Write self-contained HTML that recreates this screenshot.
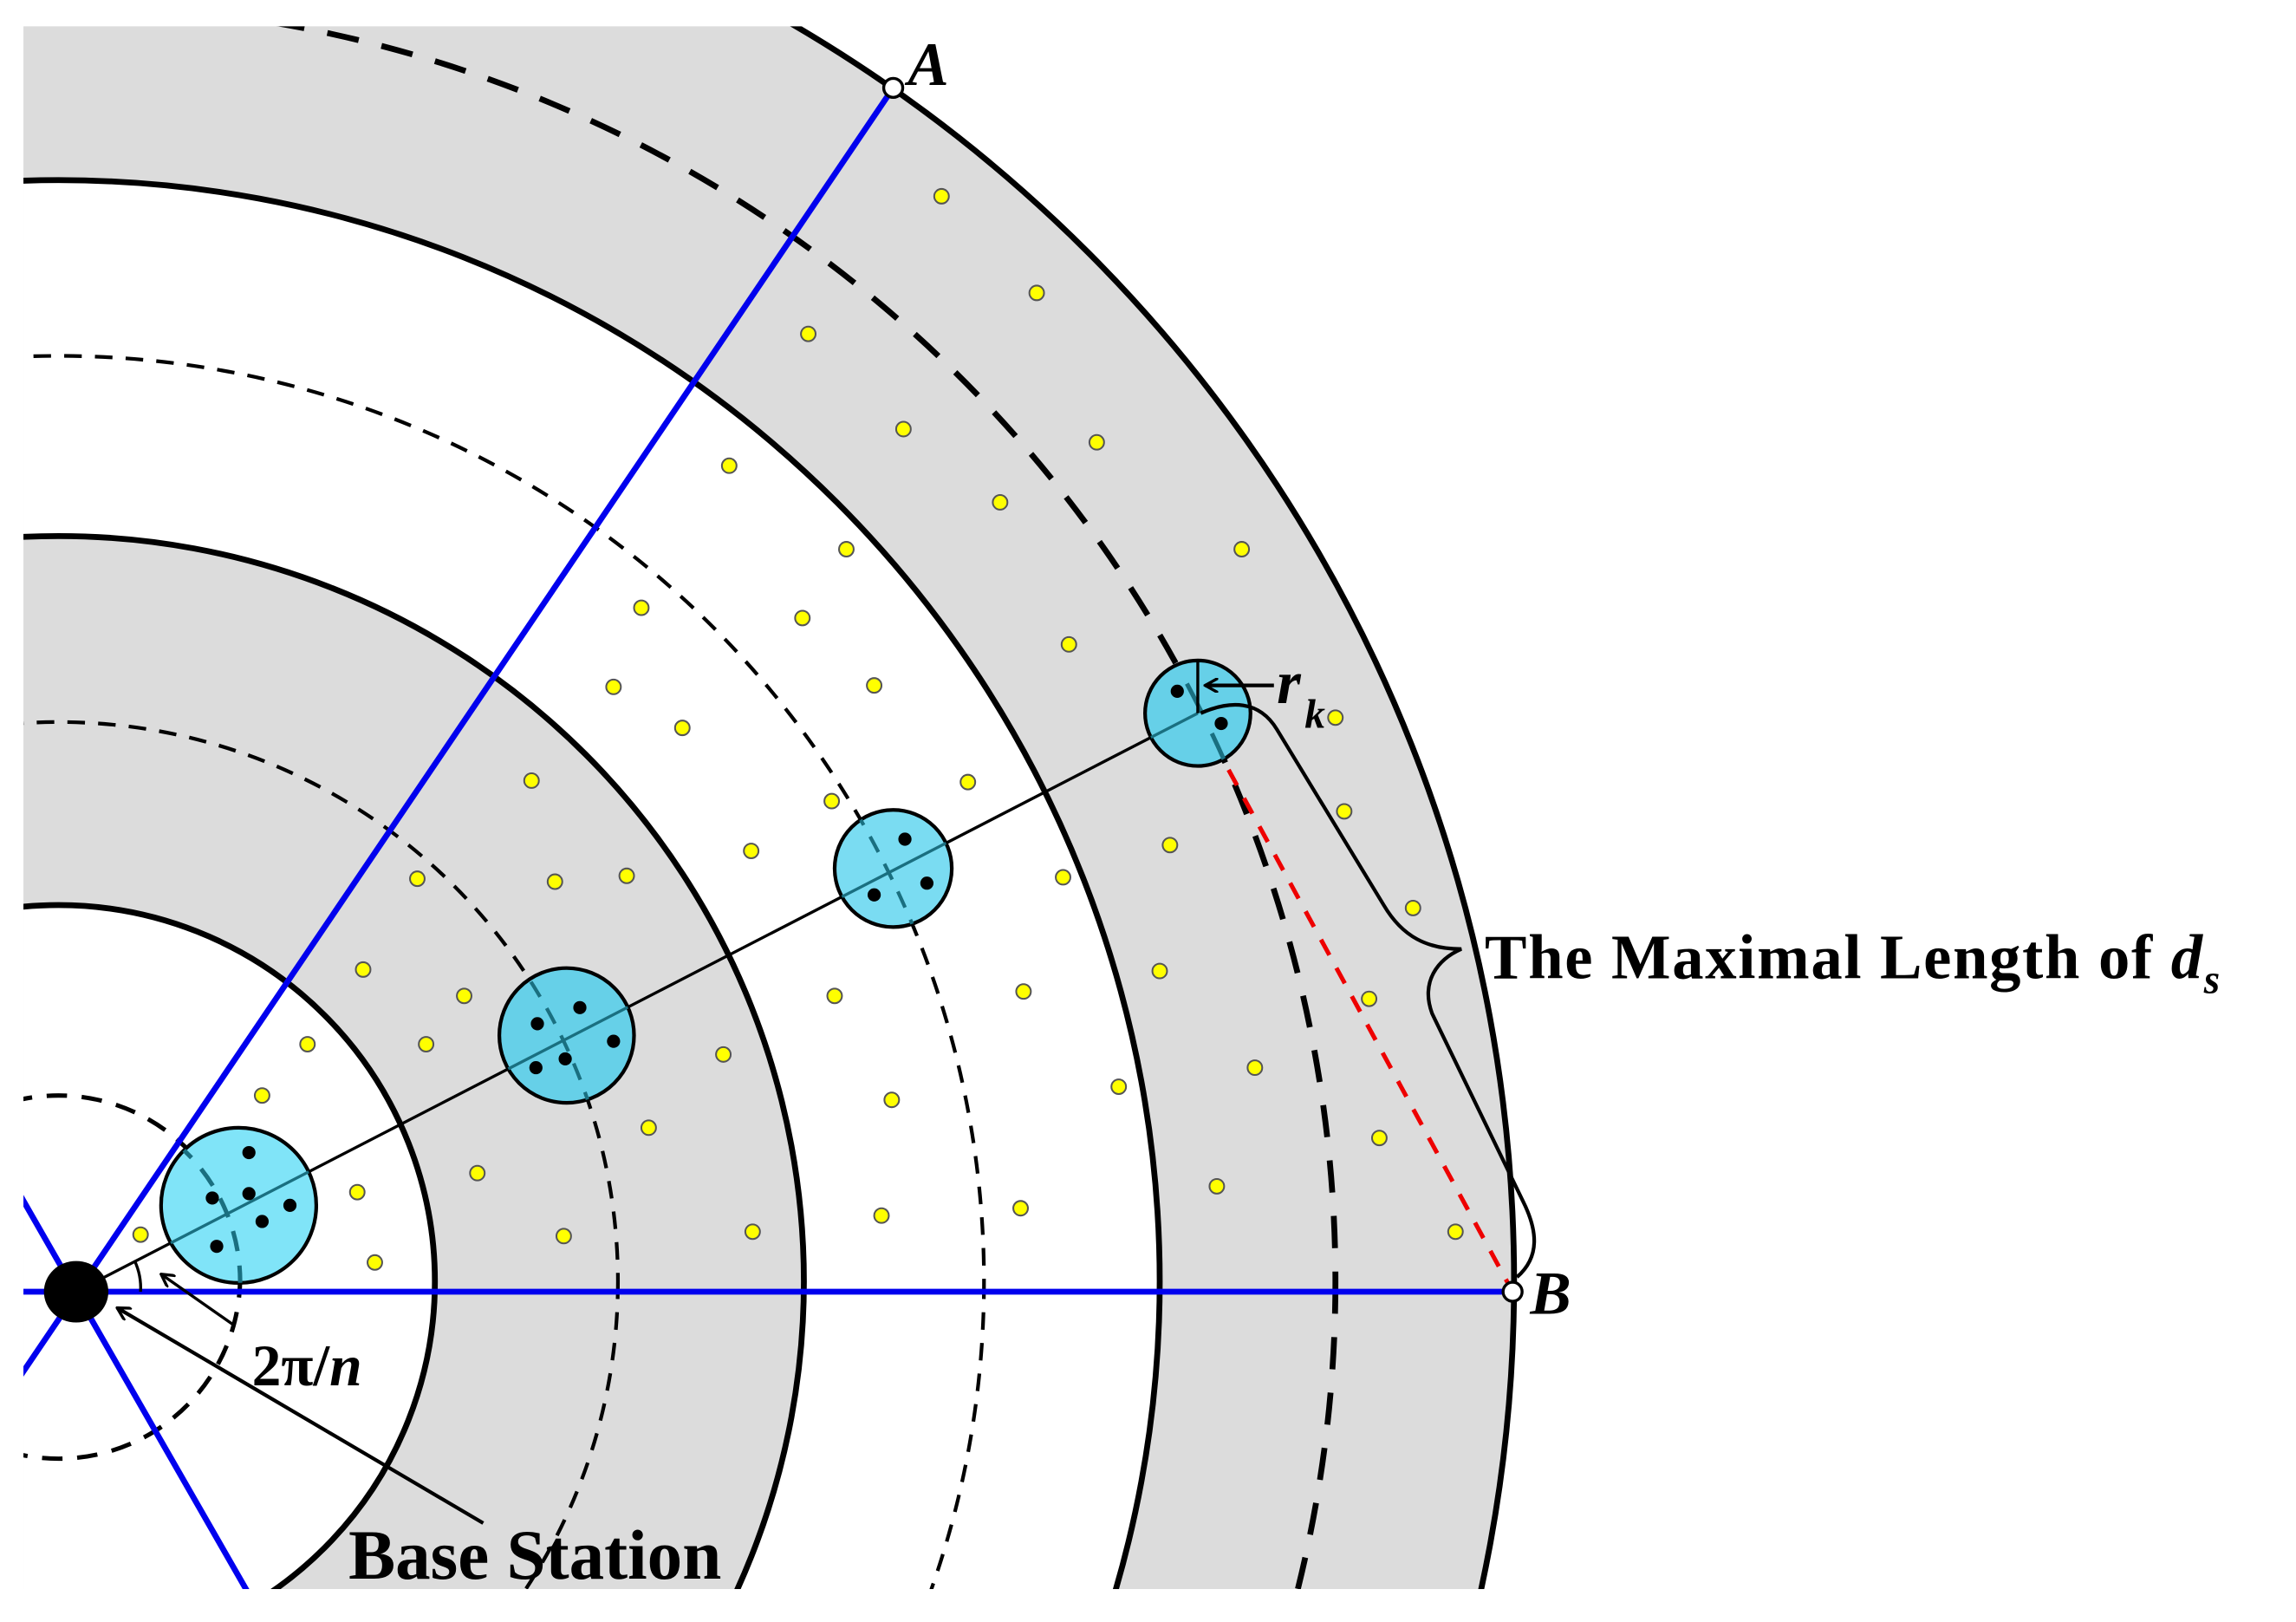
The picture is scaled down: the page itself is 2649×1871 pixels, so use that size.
<!DOCTYPE html>
<html><head><meta charset="utf-8"><style>html,body{margin:0;padding:0;background:#fff;overflow:hidden;width:2649px;height:1871px}svg{display:block}</style></head><body>
<svg width="2649" height="1871" viewBox="0 0 1568 1107.5" preserveAspectRatio="none" xmlns="http://www.w3.org/2000/svg">
<defs>
<clipPath id="c"><rect x="16" y="18" width="1560" height="1067"/></clipPath>
<clipPath id="cl">
<circle cx="163" cy="823" r="53"/><circle cx="387" cy="707" r="46"/><circle cx="610" cy="593" r="40"/><circle cx="818" cy="487" r="36"/>
</clipPath>
<marker id="ar" markerWidth="10" markerHeight="10" refX="9" refY="5" orient="auto" markerUnits="userSpaceOnUse"><path d="M0,0 L9,5 L0,10" fill="none" stroke="#000" stroke-width="2"/></marker>
</defs>
<rect width="1568" height="1108" fill="#fff"/>
<g clip-path="url(#c)">
<circle cx="40" cy="875" r="994" fill="#dcdcdc"/>
<circle cx="40" cy="875" r="752" fill="#fff"/>
<circle cx="40" cy="875" r="509" fill="#dcdcdc"/>
<circle cx="40" cy="875" r="257" fill="#fff"/>
<g fill="none" stroke="#000">
<circle cx="40" cy="875" r="994" stroke-width="4"/>
<circle cx="40" cy="875" r="752" stroke-width="4"/>
<circle cx="40" cy="875" r="509" stroke-width="4"/>
<circle cx="40" cy="875" r="257" stroke-width="4"/>
<circle cx="40" cy="872" r="124" stroke-width="3" stroke-dasharray="14,10"/>
<circle cx="40" cy="875" r="382" stroke-width="2.5" stroke-dasharray="12,9"/>
<circle cx="40" cy="875" r="632" stroke-width="2.5" stroke-dasharray="12,9"/>
<circle cx="40" cy="875" r="872" stroke-width="4" stroke-dasharray="22,16"/>
</g>
<g stroke="#0000ee" stroke-width="4">
<line x1="0" y1="960" x2="610" y2="60"/>
<line x1="0" y1="882" x2="1033" y2="882"/>
<line x1="0" y1="792" x2="180" y2="1106"/>
</g>
<g fill="#ffff00" stroke="#555" stroke-width="1.2">
<circle cx="643" cy="134" r="5"/><circle cx="708" cy="200" r="5"/><circle cx="552" cy="228" r="5"/><circle cx="617" cy="293" r="5"/><circle cx="749" cy="302" r="5"/><circle cx="498" cy="318" r="5"/><circle cx="683" cy="343" r="5"/><circle cx="848" cy="375" r="5"/><circle cx="578" cy="375" r="5"/><circle cx="438" cy="415" r="5"/><circle cx="548" cy="422" r="5"/><circle cx="730" cy="440" r="5"/><circle cx="419" cy="469" r="5"/><circle cx="597" cy="468" r="5"/><circle cx="466" cy="497" r="5"/><circle cx="912" cy="490" r="5"/><circle cx="661" cy="534" r="5"/><circle cx="363" cy="533" r="5"/><circle cx="568" cy="547" r="5"/><circle cx="918" cy="554" r="5"/><circle cx="513" cy="581" r="5"/><circle cx="799" cy="577" r="5"/><circle cx="285" cy="600" r="5"/><circle cx="379" cy="602" r="5"/><circle cx="428" cy="598" r="5"/><circle cx="726" cy="599" r="5"/><circle cx="965" cy="620" r="5"/><circle cx="248" cy="662" r="5"/><circle cx="317" cy="680" r="5"/><circle cx="570" cy="680" r="5"/><circle cx="699" cy="677" r="5"/><circle cx="792" cy="663" r="5"/><circle cx="935" cy="682" r="5"/><circle cx="210" cy="713" r="5"/><circle cx="291" cy="713" r="5"/><circle cx="494" cy="720" r="5"/><circle cx="857" cy="729" r="5"/><circle cx="179" cy="748" r="5"/><circle cx="443" cy="770" r="5"/><circle cx="609" cy="751" r="5"/><circle cx="764" cy="742" r="5"/><circle cx="942" cy="777" r="5"/><circle cx="326" cy="801" r="5"/><circle cx="244" cy="814" r="5"/><circle cx="831" cy="810" r="5"/><circle cx="96" cy="843" r="5"/><circle cx="256" cy="862" r="5"/><circle cx="385" cy="844" r="5"/><circle cx="514" cy="841" r="5"/><circle cx="602" cy="830" r="5"/><circle cx="697" cy="825" r="5"/><circle cx="994" cy="841" r="5"/>
</g>
<line x1="52" y1="882" x2="818" y2="487" stroke="#000" stroke-width="2"/>
<line x1="818" y1="487" x2="1033" y2="882" stroke="#ee0000" stroke-width="3" stroke-dasharray="12,10"/>
<g stroke="#000" stroke-width="2.5">
<circle cx="163" cy="823" r="53" fill="#80e4f8"/>
<circle cx="387" cy="707" r="46" fill="#66d0e8"/>
<circle cx="610" cy="593" r="40" fill="#7adcf2"/>
<circle cx="818" cy="487" r="36" fill="#66d0e8"/>
</g>
<g clip-path="url(#cl)" fill="none" stroke="#1a6f80">
<line x1="52" y1="882" x2="818" y2="487" stroke-width="2"/>
<circle cx="40" cy="875" r="124" stroke-width="3" stroke-dasharray="14,10"/>
<circle cx="40" cy="875" r="382" stroke-width="2.5" stroke-dasharray="12,9"/>
<circle cx="40" cy="875" r="632" stroke-width="2.5" stroke-dasharray="12,9"/>
<circle cx="40" cy="875" r="872" stroke-width="3" stroke-dasharray="22,16"/>
</g>
<g fill="#000">
<circle cx="170" cy="815" r="4.5"/><circle cx="145" cy="818" r="4.5"/><circle cx="198" cy="823" r="4.5"/><circle cx="170" cy="787" r="4.5"/><circle cx="179" cy="834" r="4.5"/><circle cx="148" cy="851" r="4.5"/>
<circle cx="367" cy="699" r="4.5"/><circle cx="396" cy="688" r="4.5"/><circle cx="419" cy="711" r="4.5"/><circle cx="386" cy="723" r="4.5"/><circle cx="366" cy="729" r="4.5"/>
<circle cx="618" cy="573" r="4.5"/><circle cx="597" cy="611" r="4.5"/><circle cx="633" cy="603" r="4.5"/>
<circle cx="804" cy="472" r="4.5"/><circle cx="834" cy="494" r="4.5"/>
</g>
<line x1="818" y1="452" x2="818" y2="487" stroke="#000" stroke-width="2"/>
<line x1="870" y1="468" x2="823" y2="468" stroke="#000" stroke-width="2.5" marker-end="url(#ar)"/>
<path d="M820,487 C840,478 860,478 872,498 L945,618 C958,640 975,648 998,648 C982,655 970,670 978,692 L1040,820 C1050,840 1052,858 1036,872" fill="none" stroke="#000" stroke-width="2.5"/>
<ellipse cx="52" cy="882" rx="22" ry="21" fill="#000"/>
<path d="M96,882 A44,44 0 0 0 92,861" fill="none" stroke="#000" stroke-width="2"/>
<line x1="160" y1="905" x2="110" y2="870" stroke="#000" stroke-width="2" marker-end="url(#ar)"/>
<line x1="330" y1="1040" x2="80" y2="893" stroke="#000" stroke-width="2.5" marker-end="url(#ar)"/>
<circle cx="610" cy="60" r="6.5" fill="#fff" stroke="#000" stroke-width="2"/>
<circle cx="1033" cy="882" r="6.5" fill="#fff" stroke="#000" stroke-width="2"/>
</g>
<g font-family="'Liberation Serif', serif" font-weight="bold" fill="#000">
<text x="620" y="58" font-size="42" font-style="italic">A</text>
<text x="1045" y="897" font-size="42" font-style="italic">B</text>
<text x="872" y="480" font-size="42" font-style="italic">r</text>
<text x="891" y="497" font-size="28" font-style="italic">k</text>
<text x="172" y="946" font-size="40">2π/<tspan font-style="italic">n</tspan></text>
<text x="238" y="1078" font-size="48">Base Station</text>
<text x="1014" y="668" font-size="43" letter-spacing="1">The Maximal Length of <tspan font-style="italic">d</tspan><tspan font-style="italic" font-size="28" dy="10">s</tspan></text>
</g>
</svg>
</body></html>
